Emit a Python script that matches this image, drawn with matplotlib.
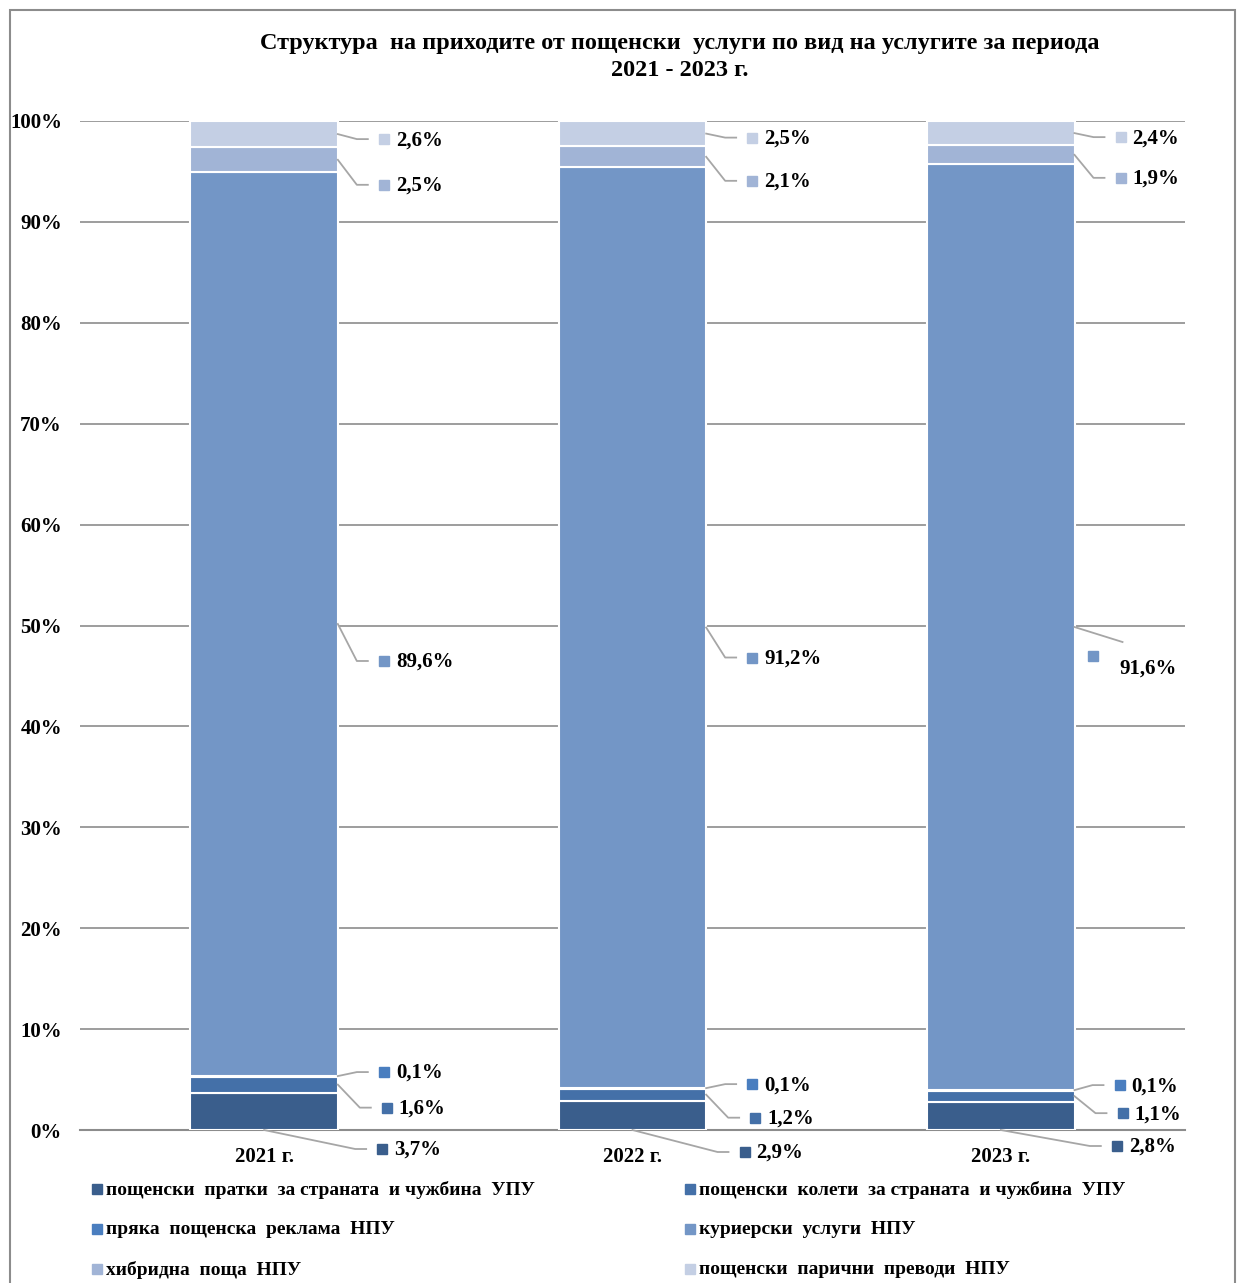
import matplotlib

matplotlib.use("Agg")

import matplotlib.pyplot as plt  # noqa: E402
import numpy as np  # noqa: E402
from matplotlib.lines import Line2D  # noqa: E402
from matplotlib.patches import Rectangle  # noqa: E402

plt.rcParams["font.family"] = ["Liberation Serif", "DejaVu Serif"]
plt.rcParams["font.weight"] = "bold"

# --- data ---
years = ["2021 г.", "2022 г.", "2023 г."]
series = [
    "пощенски  пратки  за страната  и чужбина  УПУ",
    "пощенски  колети  за страната  и чужбина  УПУ",
    "пряка  пощенска  реклама  НПУ",
    "куриерски  услуги  НПУ",
    "хибридна  поща  НПУ",
    "пощенски  парични  преводи  НПУ",
]
shares = np.array([
    [3.7, 2.9, 2.8],
    [1.6, 1.2, 1.1],
    [0.1, 0.1, 0.1],
    [89.6, 91.2, 91.6],
    [2.5, 2.1, 1.9],
    [2.6, 2.5, 2.4],
])
colors = ["#3A5E8C", "#4470A8", "#4A7EBF", "#7396C6", "#A1B4D6", "#C4CFE4"]

# label marker offsets (px) from the leader anchor, per series / year
label_offsets = [
    [(118, 19), (112, 22), (116, 16)],
    [(49, 23), (49, 23), (48, 17)],
    [(46, -4), (46, -4), (45, -5)],
    [(46, 37), (46, 30), None],
    [(46, 25), (46, 24), (46, 23)],
    [(46, 5), (46, 4), (46, 4)],
]

W, H = 1237, 1283
fig = plt.figure(figsize=(W / 100, H / 100), dpi=100)
ax = fig.add_axes([80 / W, 1 - 1130 / H, 1105 / W, 1009 / H])


def fig_xy(px, py):
    return px / W, 1 - py / H


x = np.arange(len(years))
width = 0.4
norm = shares / shares.sum(axis=0) * 100
bottom = np.zeros(len(years))
for vals, col in zip(norm, colors):
    ax.bar(x, vals, width, bottom=bottom, color=col, edgecolor="white", linewidth=1.5, zorder=3)
    bottom += vals

ax.set_xlim(-0.5, 2.5)
ax.set_ylim(0, 100)
ax.set_yticks(np.arange(0, 101, 10))
ax.set_yticklabels([f"{v}%" for v in range(0, 101, 10)])
ax.set_xticks(x)
ax.set_xticklabels(years)
ax.tick_params(axis="y", length=0, pad=13, labelsize=15)
ax.tick_params(axis="x", length=0, pad=12, labelsize=15)
ax.grid(axis="y", color="#8C8C8C", linewidth=1.2)
ax.set_axisbelow(True)
for side in ["left", "right", "top"]:
    ax.spines[side].set_visible(False)
ax.spines["bottom"].set_color("#8C8C8C")
ax.spines["bottom"].set_linewidth(1.5)

# --- data labels with leader lines ---
lead_kw = dict(color="#A6A6A6", linewidth=1.3, transform=fig.transFigure)
cum = np.vstack([np.zeros(len(years)), np.cumsum(norm, axis=0)])
for i in range(len(series)):
    for j in range(len(years)):
        if i == 0:
            ax_pt = (x[j], 0)
        else:
            ax_pt = (x[j] + width / 2, (cum[i, j] + cum[i + 1, j]) / 2)
        dx, dy = ax.transData.transform(ax_pt)
        apx, apy = dx, H - dy
        text = f"{shares[i, j]:.1f}%".replace(".", ",")
        off = label_offsets[i][j]
        if off is None:
            # label pushed below its leader line
            mx, my = apx + 18, apy + 29
            ex, ey = apx + 48, apy + 15
            fig.add_artist(Line2D(*zip(fig_xy(apx, apy), fig_xy(ex, ey)), **lead_kw))
            tx, ty = apx + 45, apy + 42
        else:
            mx, my = apx + off[0], apy + off[1]
            pts = [fig_xy(apx, apy), fig_xy(mx - 27, my), fig_xy(mx - 16, my)]
            fig.add_artist(Line2D(*zip(*pts), **lead_kw))
            tx, ty = mx + 12, my + 1
        fig.add_artist(Line2D([fig_xy(mx, my)[0]], [fig_xy(mx, my)[1]], marker="s", markersize=7,
                              color=colors[i], linestyle="none", transform=fig.transFigure))
        fx, fy = fig_xy(tx, ty)
        fig.text(fx, fy, text, ha="left", va="center", fontsize=15, fontweight="bold")

# --- title ---
fig.text(*fig_xy(680, 43), "Структура  на приходите от пощенски  услуги по вид на услугите за периода",
         ha="center", va="center", fontsize=17.5, fontweight="bold")
fig.text(*fig_xy(680, 70), "2021 - 2023 г.", ha="center", va="center", fontsize=17.5, fontweight="bold")

# --- legend (row-wise, two columns) ---
for i, (name, col) in enumerate(zip(series, colors)):
    row, colno = divmod(i, 2)
    lx = 97 if colno == 0 else 690
    ly = 1189 + 40 * row
    fig.add_artist(Line2D([fig_xy(lx, ly)[0]], [fig_xy(lx, ly)[1]], marker="s", markersize=7,
                          color=col, linestyle="none", transform=fig.transFigure))
    fig.text(*fig_xy(lx + 9, ly + 1), name, ha="left", va="center", fontsize=14, fontweight="bold")

# --- outer frame ---
fig.add_artist(Rectangle(fig_xy(10, 1300), 1225 / W, 1290 / H, fill=False,
                         edgecolor="#8C8C8C", linewidth=1.5, transform=fig.transFigure))

fig.savefig("out.png", dpi=100)
